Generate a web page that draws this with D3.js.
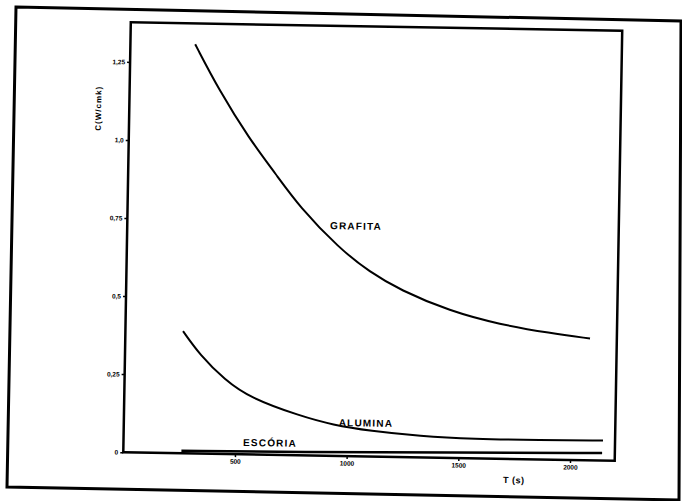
<!DOCTYPE html>
<html><head><meta charset="utf-8">
<script src="https://cdn.jsdelivr.net/npm/d3@7"></script>
<style>body{margin:0;background:#fff}svg{display:block}</style>
</head><body>
<svg id="c" width="682" height="501"></svg>
<script>
// ---- data ----
const grafitaT = [290, 400, 540, 660, 770, 950, 1090, 1225, 1450, 1675, 1900, 2080];
const grafitaC = [1.31, 1.165, 1.01, 0.90, 0.795, 0.665, 0.59, 0.535, 0.47, 0.43, 0.405, 0.39];
const aluminaT = [258, 335, 449, 563, 788, 936, 1102, 1327, 1564, 1864, 2146];
const aluminaC = [0.391, 0.316, 0.237, 0.181, 0.126, 0.099, 0.082, 0.068, 0.062, 0.062, 0.064];
const escoriaT = [260, 791, 1462, 2143];
const escoriaC = [0.008, 0.010, 0.017, 0.024];
const seriesNames = ["GRAFITA", "ALUMINA", "ESCÓRIA"];
const yTicks = [0, 0.25, 0.5, 0.75, 1.0, 1.25];
const yTickLabels = ["0", "0,25", "0,5", "0,75", "1,0", "1,25"];
const xTicks = [500, 1000, 1500, 2000];
const xTickLabels = ["500", "1000", "1500", "2000"];
const yTitle = "C(W/cmk)";
const xTitle = "T (s)";

// ---- drawing ----
const svg = d3.select("#c");
svg.append("rect").attr("width", 682).attr("height", 501).attr("fill", "#fff");

// scanned outer frame
svg.append("path")
  .attr("d", "M16,7 L681,21 L679,500 L7,487 Z")
  .attr("fill", "none").attr("stroke", "#000").attr("stroke-width", 3);

const L = 127, R = 618.5, T = 26.5, B = 456.5;
const g = svg.append("g").attr("transform", `rotate(1,${(L+R)/2},${(T+B)/2})`);

const x = d3.scaleLinear().domain([0, 2200]).range([L, R]);
const y = d3.scaleLinear().domain([0, 1.377]).range([B, T]);

g.append("rect").attr("x", L).attr("y", T).attr("width", R - L).attr("height", B - T)
  .attr("fill", "none").attr("stroke", "#000").attr("stroke-width", 2.5);

const font = "'Liberation Sans', Arial, sans-serif";

const ya = g.append("g").attr("transform", `translate(${L},0)`)
  .call(d3.axisLeft(y).tickValues(yTicks).tickSize(3).tickPadding(2)
    .tickFormat((d, i) => yTickLabels[i]));
ya.select(".domain").remove();
ya.selectAll("line").attr("stroke", "#000").attr("stroke-width", 1.5);
ya.selectAll("text").attr("font-family", font).attr("font-size", 6.5)
  .attr("font-weight", "bold").attr("fill", "#000");

const xa = g.append("g").attr("transform", `translate(0,${B})`)
  .call(d3.axisBottom(x).tickValues(xTicks).tickSize(3).tickPadding(2)
    .tickFormat((d, i) => xTickLabels[i]));
xa.select(".domain").remove();
xa.selectAll("line").attr("stroke", "#000").attr("stroke-width", 1.5);
xa.selectAll("text").attr("font-family", font).attr("font-size", 6.5)
  .attr("font-weight", "bold").attr("fill", "#000");

const line = d3.line().x(d => x(d[0])).y(d => y(d[1])).curve(d3.curveBasis);
const series = [
  d3.zip(grafitaT, grafitaC),
  d3.zip(aluminaT, aluminaC),
  d3.zip(escoriaT, escoriaC)
];
g.selectAll("path.s").data(series).join("path").attr("class", "s")
  .attr("d", line).attr("fill", "none").attr("stroke", "#000")
  .attr("stroke-width", (d, i) => i === 2 ? 2.5 : 2);

// curve labels (anchored in data space)
const labelAt = [[1024, 0.737], [1084, 0.107], [656, 0.038]];
g.selectAll("text.lab").data(seriesNames).join("text").attr("class", "lab")
  .attr("x", (d, i) => x(labelAt[i][0])).attr("y", (d, i) => y(labelAt[i][1]))
  .attr("dy", "0.35em").attr("text-anchor", "middle")
  .attr("font-family", font).attr("font-weight", "bold").attr("font-size", 10)
  .attr("letter-spacing", 1.2).text(d => d);

// axis titles
g.append("text").attr("transform", `translate(${L - 31},${y(1.1)}) rotate(-90)`)
  .attr("text-anchor", "middle").attr("dy", "0.35em")
  .attr("font-family", font).attr("font-weight", "bold").attr("font-size", 8)
  .attr("letter-spacing", 1).text(yTitle);
g.append("text").attr("x", x(1750)).attr("y", B + 21).attr("dy", "0.35em")
  .attr("text-anchor", "middle")
  .attr("font-family", font).attr("font-weight", "bold").attr("font-size", 9)
  .attr("letter-spacing", 0.5).text(xTitle);
</script>
</body></html>
